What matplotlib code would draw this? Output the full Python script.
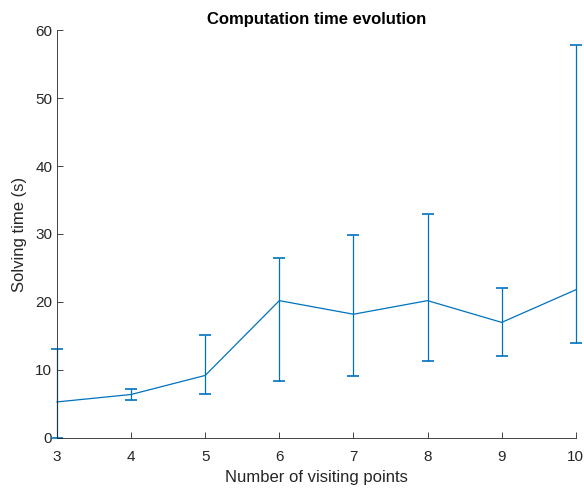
import numpy as np
from matplotlib import pyplot as plt

# values
n_points = [3, 4, 5, 6, 7, 8, 9, 10]
mean_time = [5.3, 6.4, 9.2, 20.2, 18.2, 20.2, 17.0, 21.8]
upper_time = [13.1, 7.2, 15.1, 26.4, 29.9, 32.9, 22.0, 57.8]
lower_time = [0.0, 5.6, 6.5, 8.4, 9.1, 11.3, 12.0, 14.0]

plt.rcParams["font.family"] = ["Liberation Sans", "DejaVu Sans"]

mean = np.asarray(mean_time)
yerr = [mean - np.asarray(lower_time), np.asarray(upper_time) - mean]

fig = plt.figure(figsize=(5.84, 4.88), dpi=100)
ax = fig.add_axes([0.0976, 0.1025, 0.8884, 0.836])
ax.errorbar(n_points, mean_time, yerr=yerr, color="#0072BD", lw=0.9,
            elinewidth=0.9, capsize=4.5, capthick=1.2, clip_on=False)

ax.set_xlim(3, 10)
ax.set_ylim(0, 60)
ax.set_xticks(n_points)
ax.set_yticks(np.arange(0, 61, 10))
for s in ["top", "right"]:
    ax.spines[s].set_visible(False)
for s in ["left", "bottom"]:
    ax.spines[s].set_color("#262626")
    ax.spines[s].set_linewidth(0.6)
ax.tick_params(direction="in", colors="#262626", labelsize=11, length=4, width=0.6)
ax.tick_params(axis="x", pad=9)
ax.set_xlabel("Number of visiting points", fontsize=12, color="#262626", labelpad=4)
ax.set_ylabel("Solving time (s)", fontsize=12, color="#262626", labelpad=6)
ax.set_title("Computation time evolution", fontsize=12, fontweight="bold", pad=4)

fig.savefig("out.png", dpi=100)
plt.close(fig)
